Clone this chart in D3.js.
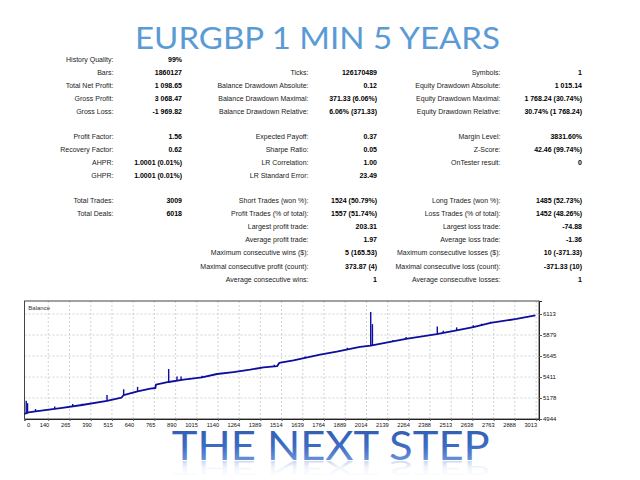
<!DOCTYPE html>
<html><head><meta charset="utf-8">
<script src="https://cdn.jsdelivr.net/npm/d3@7"></script>
<style>body{margin:0;background:#fff}svg{display:block}</style>
</head><body>
<svg id="c" width="640" height="480"></svg>
<script>
// ---------- DATA ----------
const titleText = "EURGBP 1 MIN 5 YEARS";
const footerText = "THE NEXT STEP";
const chartLabel = "Balance";

const statLabels1 = ["History Quality:", "Bars:", "Total Net Profit:", "Gross Profit:", "Gross Loss:", "",
  "Profit Factor:", "Recovery Factor:", "AHPR:", "GHPR:", "",
  "Total Trades:", "Total Deals:"];
const statValues1 = ["99%", "1860127", "1 098.65", "3 068.47", "-1 969.82", "",
  "1.56", "0.62", "1.0001 (0.01%)", "1.0001 (0.01%)", "",
  "3009", "6018"];
const statLabels2 = ["", "Ticks:", "Balance Drawdown Absolute:", "Balance Drawdown Maximal:", "Balance Drawdown Relative:", "",
  "Expected Payoff:", "Sharpe Ratio:", "LR Correlation:", "LR Standard Error:", "",
  "Short Trades (won %):", "Profit Trades (% of total):", "Largest profit trade:", "Average profit trade:",
  "Maximum consecutive wins ($):", "Maximal consecutive profit (count):", "Average consecutive wins:"];
const statValues2 = ["", "126170489", "0.12", "371.33 (6.06%)", "6.06% (371.33)", "",
  "0.37", "0.05", "1.00", "23.49", "",
  "1524 (50.79%)", "1557 (51.74%)", "203.31", "1.97", "5 (165.53)", "373.87 (4)", "1"];
const statLabels3 = ["", "Symbols:", "Equity Drawdown Absolute:", "Equity Drawdown Maximal:", "Equity Drawdown Relative:", "",
  "Margin Level:", "Z-Score:", "OnTester result:", "", "",
  "Long Trades (won %):", "Loss Trades (% of total):", "Largest loss trade:", "Average loss trade:",
  "Maximum consecutive losses ($):", "Maximal consecutive loss (count):", "Average consecutive losses:"];
const statValues3 = ["", "1", "1 015.14", "1 768.24 (30.74%)", "30.74% (1 768.24)", "",
  "3831.60%", "42.46 (99.74%)", "0", "", "",
  "1485 (52.73%)", "1452 (48.26%)", "-74.88", "-1.36", "10 (-371.33)", "-371.33 (10)", "1"];

const xTickLabels = [0, 140, 265, 390, 515, 640, 765, 890, 1015, 1140, 1264, 1389, 1514, 1639, 1764, 1889, 2014, 2139, 2264, 2388, 2513, 2638, 2763, 2888, 3013];
const yTickLabels = [4944, 5178, 5411, 5645, 5879, 6113];

const balanceTrades = [0, 24, 65, 212, 339, 486, 571, 584, 666, 741, 771, 774, 849, 937, 1045, 1134, 1231, 1329, 1408, 1488, 1500, 1584, 1741, 1839, 1976, 2039, 2169, 2247, 2428, 2545, 2643, 2745, 2898, 3009];
const balanceValues = [5000, 5017, 5029, 5066, 5100, 5145, 5181, 5211, 5251, 5281, 5289, 5326, 5356, 5382, 5407, 5445, 5467, 5493, 5519, 5532, 5568, 5597, 5660, 5693, 5746, 5760, 5808, 5835, 5890, 5931, 5968, 6013, 6058, 6098.65];

const spikeTrades = [10, 18, 65, 178, 284, 339, 486, 584, 666, 849, 898, 922, 1045, 1471, 1653, 1901, 2039, 2049, 2169, 2247, 2431, 2466, 2545, 2643, 2692, 2745];
const spikeBase   = [5008, 5012, 5029, 5060, 5083, 5100, 5145, 5211, 5251, 5356, 5370, 5380, 5407, 5530, 5622, 5724, 5760, 5762, 5808, 5835, 5890, 5905, 5931, 5968, 5990, 6013];
const spikePeak   = [5148, 5120, 5055, 5082, 5110, 5115, 5210, 5275, 5302, 5501, 5418, 5418, 5426, 5548, 5640, 5737, 6136, 6000, 5822, 5856, 5975, 5927, 5964, 5988, 6005, 6027];

// ---------- DRAW ----------
const svg = d3.select("#c");
const defs = svg.append("defs");

// Title
svg.append("text")
  .attr("x", 135).attr("y", 49.3)
  .attr("textLength", 365).attr("lengthAdjust", "spacingAndGlyphs")
  .style("font-family", "Lato, 'Open Sans', sans-serif")
  .style("font-size", "30px")
  .style("fill", "#5B9BD5")
  .text(titleText);

// Stats table
function rowY(i) {
  if (i < 5) return 59 + 13.08 * i;
  if (i < 10) return 136 + 13.1 * (i - 6);
  return 200 + 13.22 * (i - 11);
}
const cols = [
  {labels: statLabels1, values: statValues1, lx: 113.5, vx: 182},
  {labels: statLabels2, values: statValues2, lx: 308.5, vx: 377},
  {labels: statLabels3, values: statValues3, lx: 500.5, vx: 582}
];
const statG = svg.append("g").style("font-family", "'Liberation Sans', Arial, sans-serif").style("font-size", "7px");
cols.forEach(c => {
  c.labels.forEach((l, i) => {
    if (!l) return;
    statG.append("text").attr("x", c.lx).attr("y", rowY(i) + 2.5)
      .attr("text-anchor", "end").style("fill", "#222").text(l);
  });
  c.values.forEach((v, i) => {
    if (!v) return;
    statG.append("text").attr("x", c.vx).attr("y", rowY(i) + 2.5)
      .attr("text-anchor", "end").style("fill", "#000").style("font-weight", "bold").text(v);
  });
});

// Chart
const L = 24.5, R = 539, T = 301, B = 419;
const x = d3.scaleLinear().domain([0, 3030]).range([L, R]);
const y = d3.scaleLinear().domain([4944, 6257.7]).range([B, T]);

const chart = svg.append("g");
// grid
chart.append("g").selectAll("line").data(xTickLabels.slice(1)).join("line")
  .attr("x1", d => x(d)).attr("x2", d => x(d)).attr("y1", T).attr("y2", B)
  .attr("stroke", "#c8c8c8").attr("stroke-width", 0.8).attr("stroke-dasharray", "2,2");
chart.append("g").selectAll("line").data(yTickLabels.slice(1)).join("line")
  .attr("x1", L).attr("x2", R).attr("y1", d => y(d)).attr("y2", d => y(d))
  .attr("stroke", "#c8c8c8").attr("stroke-width", 0.8).attr("stroke-dasharray", "2,2");

// frame
chart.append("rect").attr("x", L).attr("y", T).attr("width", R - L).attr("height", B - T)
  .attr("fill", "none").attr("stroke", "#444").attr("stroke-width", 1);

chart.append("text").attr("x", 28.3).attr("y", 309.5)
  .style("font-family", "'Liberation Sans', Arial, sans-serif").style("font-size", "6px")
  .style("fill", "#333").text(chartLabel);

// spikes
const lineColor = "#0d0d9e";
chart.append("g").selectAll("line").data(spikeTrades).join("line")
  .attr("x1", d => x(d)).attr("x2", d => x(d))
  .attr("y1", (d, i) => y(spikeBase[i])).attr("y2", (d, i) => y(spikePeak[i]))
  .attr("stroke", lineColor).attr("stroke-width", 1.4);

// balance line
const pts = balanceTrades.map((t, i) => [t, balanceValues[i]]);
chart.append("path").datum(pts)
  .attr("d", d3.line().x(d => x(d[0])).y(d => y(d[1])))
  .attr("fill", "none").attr("stroke", lineColor).attr("stroke-width", 1.8)
  .attr("stroke-linejoin", "round");

// axes
const xAxis = d3.axisBottom(x).tickValues(xTickLabels).tickSize(2).tickPadding(1.5).tickFormat(d3.format("d"));
const gx = chart.append("g").attr("transform", `translate(0,${B})`).call(xAxis);
gx.attr("font-size", "5.7px").attr("font-family", "'Liberation Sans', Arial, sans-serif");
gx.select(".domain").attr("stroke", "#222");
gx.selectAll(".tick line").attr("stroke", "#555");
gx.selectAll("text").attr("text-anchor", "end").attr("x", 0.5)
  .style("font-family", "'Liberation Sans', Arial, sans-serif").style("font-size", "5.7px").style("fill", "#111");
gx.selectAll("text").filter(d => d === 0).attr("text-anchor", "start").attr("x", 2);

const yAxis = d3.axisRight(y).tickValues(yTickLabels).tickSize(3).tickPadding(1).tickFormat(d3.format("d"));
const gy = chart.append("g").attr("transform", `translate(${R},0)`).call(yAxis);
gy.attr("font-size", "6px").attr("font-family", "'Liberation Sans', Arial, sans-serif");
gy.select(".domain").attr("stroke", "#222");
gy.selectAll(".tick line").attr("stroke", "#555");
gy.selectAll("text")
  .style("font-family", "'Liberation Sans', Arial, sans-serif").style("font-size", "6px").style("fill", "#111");

// Footer text with gradient + reflection
const g1 = defs.append("linearGradient").attr("id", "ftGrad").attr("x1", 0).attr("y1", 0).attr("x2", 0).attr("y2", 1);
g1.append("stop").attr("offset", "0%").attr("stop-color", "#2C58AA");
g1.append("stop").attr("offset", "55%").attr("stop-color", "#3D6CC4");
g1.append("stop").attr("offset", "100%").attr("stop-color", "#86A8E2");
const g2 = defs.append("linearGradient").attr("id", "refGrad").attr("x1", 0).attr("y1", 0).attr("x2", 0).attr("y2", 1);
g2.append("stop").attr("offset", "0%").attr("stop-color", "#6F94D8").attr("stop-opacity", 0);
g2.append("stop").attr("offset", "50%").attr("stop-color", "#6F94D8").attr("stop-opacity", 0.1);
g2.append("stop").attr("offset", "100%").attr("stop-color", "#6F94D8").attr("stop-opacity", 0.55);

const fBase = 459.5;
const fStyle = sel => sel
  .attr("x", 171.7).attr("textLength", 318).attr("lengthAdjust", "spacingAndGlyphs")
  .style("font-family", "Lato, 'Open Sans', sans-serif").style("font-size", "41px");
// reflection, compressed vertically so it stays inside the page
svg.append("text").call(fStyle)
  .attr("transform", `translate(0,${fBase + 1}) scale(1,-0.45) translate(0,${-fBase})`)
  .attr("y", fBase)
  .style("fill", "url(#refGrad)").text(footerText);
svg.append("text").call(fStyle).attr("y", fBase)
  .style("fill", "url(#ftGrad)").text(footerText);
</script>
</body></html>
